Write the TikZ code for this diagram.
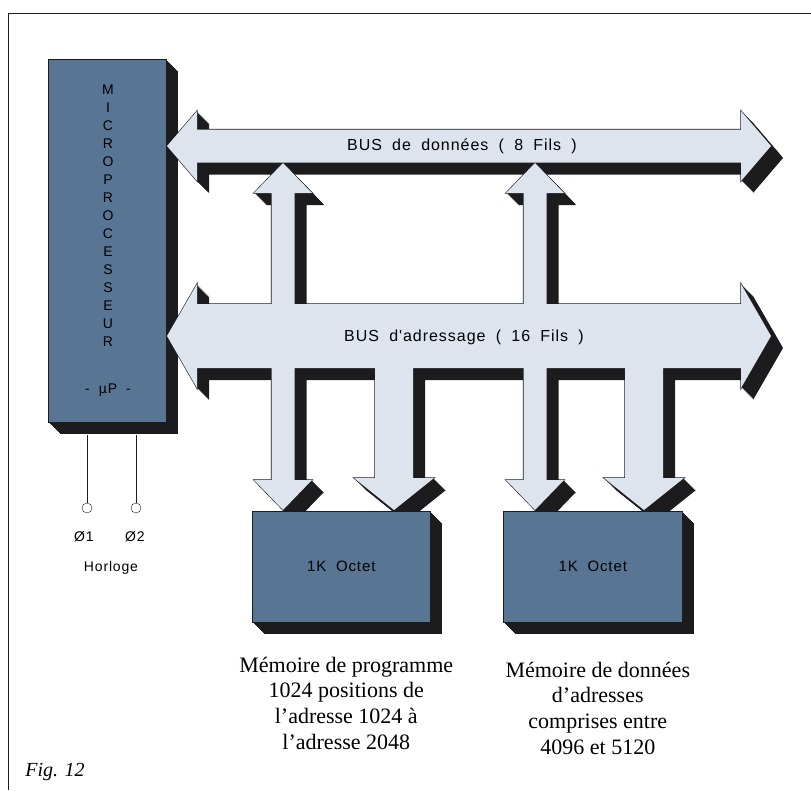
\documentclass[tikz,border=0pt]{standalone}
\usepackage{fontspec}
\setmainfont{Liberation Serif}
\newfontfamily\letterfont{Liberation Sans}[LetterSpace = 6.0, WordSpace = 1.9]
\usetikzlibrary{positioning}

\definecolor{chipblue}{RGB}{88, 118, 148}
\definecolor{buslight}{RGB}{221, 228, 238}
\definecolor{darkside}{RGB}{28, 28, 30}

\begin{document}
\begin{tikzpicture}[x = 1pt, y = -1pt,
	chip/.style = {draw = darkside, line width = 0.6pt, fill = chipblue, inner sep = 0pt, font = \letterfont\fontsize{15}{18}\selectfont},
	letter/.style = {font = \letterfont\fontsize{14}{16}\selectfont, inner sep = 0pt},
	bus text/.style = {font = \letterfont\fontsize{16}{18}\selectfont, inner sep = 0pt},
	caption/.style = {font = \fontsize{22}{25.7}\selectfont, align = center, inner sep = 0pt},
	terminal/.style = {draw = darkside, circle, fill = white, inner sep = 0pt, minimum size = 10pt},
	wire/.style = {draw = darkside, line width = 0.6pt}]

	% Definition

	\def\d{12}
	\def\databus{(167, 146) -- (197, 111) -- (197, 129.5) -- (741, 129.5) -- (741, 111) -- (771, 146) -- (741, 181) -- (741, 162.5) -- (197, 162.5) -- (197, 181) -- cycle}
	\def\addrbus{(167, 336) -- (197, 284) -- (197, 304) -- (741, 304) -- (741, 284) -- (771, 336) -- (741, 388) -- (741, 368) -- (197, 368) -- (197, 388) -- cycle}
	\def\dataline#1{(#1, 163) -- (#1 + 29, 193) -- (#1 + 11.5, 193) -- (#1 + 11.5, 480) -- (#1 + 29, 480) -- (#1, 510) -- (#1 - 29, 480) -- (#1 - 11.5, 480) -- (#1 - 11.5, 193) -- (#1 - 29, 193) -- cycle}
	\def\addrline#1{(#1 - 19, 340) -- (#1 + 19, 340) -- (#1 + 19, 478) -- (#1 + 40, 478) -- (#1, 510) -- (#1 - 40, 478) -- (#1 - 19, 478) -- cycle}
	\def\buses{\databus \addrbus \dataline{283} \dataline{535} \addrline{394} \addrline{644}}

	\useasboundingbox (0, 0) rectangle (811, 790);

	% Frame

	\draw [darkside, line width = 0.8pt] (811, 13) -- (8, 13) -- (8, 790);

	% Microprocessor

	\foreach \s in {1, ..., \d}
		\fill [darkside] (48 + \s, 59 + \s) rectangle (166 + \s, 422 + \s);
	\node [chip, minimum width = 118pt, minimum height = 363pt, anchor = north west] (cpu) at (48, 59) {};
	\foreach \ch [count = \i] in {M, I, C, R, O, P, R, O, C, E, S, S, E, U, R}
		\node [letter] (cpu-\i) at (108, 72 + 18 * \i) {\ch};
	\node [letter] (cpu-name) at (108, 390) {- µP -};

	% Clock

	\coordinate (pin1) at (87, 435);
	\coordinate (pin2) at (136, 435);
	\node [terminal] (phi1) at (87, 508) {};
	\node [terminal] (phi2) at (136, 508) {};
	\draw [wire] (pin1) -- (phi1);
	\draw [wire] (pin2) -- (phi2);
	\node [letter] (phi1-text) at (84, 537) {Ø1};
	\node [letter] (phi2-text) at (135, 537) {Ø2};
	\node [letter] (clock) at (111, 568) {Horloge};

	% Buses

	\foreach \s in {1, ..., \d}
		\fill [darkside, shift = {(\s, \s)}] \buses;
	\draw [darkside, line width = 1.2pt] \buses;
	\fill [buslight] \buses;

	\node [bus text] (data-label) at (462, 146) {BUS de données ( 8 Fils )};
	\node [bus text] (addr-label) at (464, 337) {BUS d'adressage ( 16 Fils )};

	% Memories

	\foreach \s in {1, ..., \d} {
		\fill [darkside] (252 + \s, 511 + \s) rectangle (430 + \s, 622 + \s);
		\fill [darkside] (503 + \s, 511 + \s) rectangle (682 + \s, 622 + \s);
	}
	\node [chip, minimum width = 178pt, minimum height = 111pt, anchor = north west] (mem1) at (252, 511) {1K Octet};
	\node [chip, minimum width = 179pt, minimum height = 111pt, anchor = north west] (mem2) at (503, 511) {1K Octet};

	\node [caption, below = 34pt of mem1, xshift = 5pt] (mem1-text) {Mémoire de programme\\1024 positions de\\l'adresse 1024 à\\l'adresse 2048};
	\node [caption, below = 39pt of mem2, xshift = 5pt] (mem2-text) {Mémoire de données\\d'adresses\\comprises entre\\4096 et 5120};

	\node [font = \itshape\fontsize{20}{24}\selectfont, inner sep = 0pt] (fig) at (55, 772) {Fig. 12};

\end{tikzpicture}
\end{document}
